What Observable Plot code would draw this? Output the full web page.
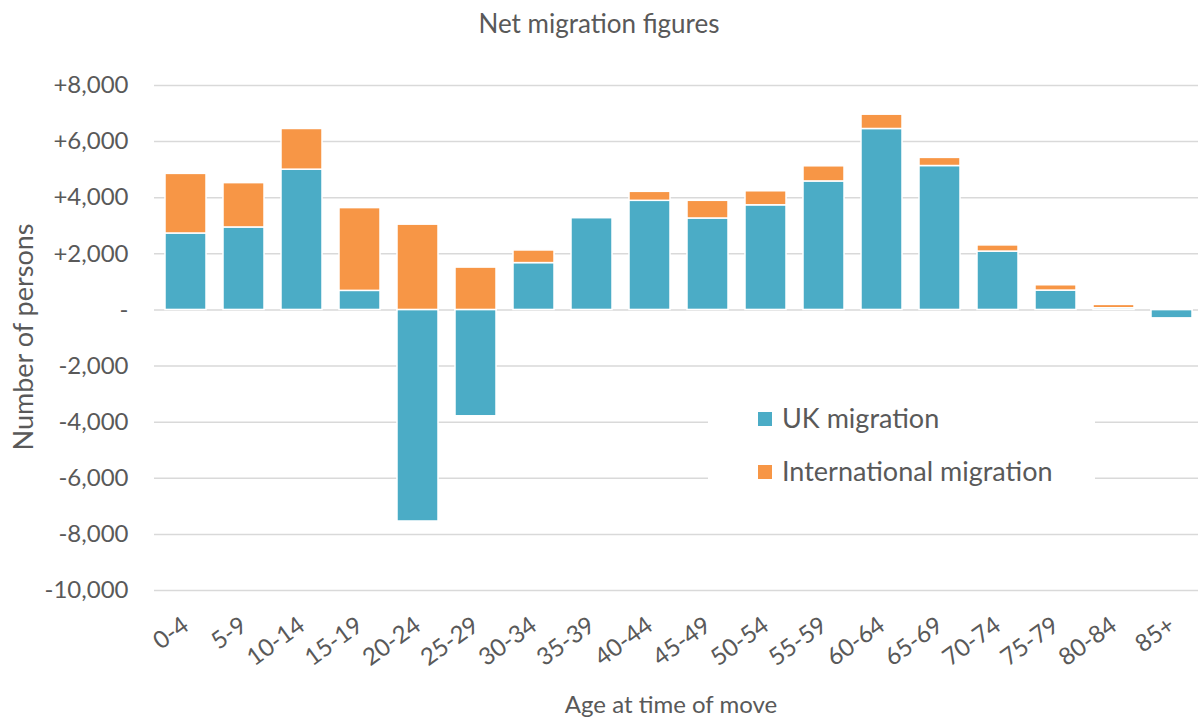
<!DOCTYPE html>
<html>
<head>
<meta charset="utf-8">
<script src="https://cdn.jsdelivr.net/npm/d3@7"></script>
<script src="https://cdn.jsdelivr.net/npm/@observablehq/plot@0.6"></script>
<style>
  html, body { margin: 0; padding: 0; background: #fff; overflow: hidden; }
  #wrap { position: relative; width: 1198px; height: 720px; overflow: hidden; font-family: Lato, "Open Sans", sans-serif; color: #595959; }
  #title { position: absolute; left: 0; top: 10px; width: 1198px; text-align: center; font-size: 26px; line-height: 1; }
  #chart { position: absolute; left: 0; top: 50px; }
  #chart svg { overflow: visible; }
  #xlabel { position: absolute; left: 0; width: 1342px; text-align: center; top: 692px; font-size: 24px; line-height: 1; }
  #ylabel { position: absolute; left: 22px; top: 337px; font-size: 27px; line-height: 1; white-space: nowrap; transform: translate(-50%, -50%) rotate(-90deg); }
  #legend { position: absolute; left: 708px; top: 390px; width: 387px; height: 100px; background: #fff; }
  .item { position: absolute; left: 50px; font-size: 27px; line-height: 1; white-space: nowrap; }
  .sw { position: absolute; left: 0; width: 14px; height: 14px; }
  .lbl { position: absolute; left: 24px; top: -8px; }
</style>
</head>
<body>
<div id="wrap">
  <div id="title">Net migration figures</div>
  <div id="chart"></div>
  <div id="ylabel">Number of persons</div>
  <div id="xlabel">Age at time of move</div>
  <div id="legend"></div>
</div>
<script>
const ages = ["0-4","5-9","10-14","15-19","20-24","25-29","30-34","35-39","40-44","45-49","50-54","55-59","60-64","65-69","70-74","75-79","80-84","85+"];
const ukMigration = [2725, 2940, 5000, 680, -7540, -3790, 1670, 3270, 3890, 3260, 3730, 4580, 6450, 5130, 2080, 690, 60, -300];
const internationalMigration = [2125, 1580, 1450, 2950, 3040, 1510, 450, 0, 320, 630, 500, 540, 510, 290, 220, 190, 120, 40];
const seriesNames = ["UK migration", "International migration"];
const seriesColors = ["#4BACC6", "#F79646"];
const yTicks = [-10000, -8000, -6000, -4000, -2000, 0, 2000, 4000, 6000, 8000];

const rows = [];
ages.forEach((a, i) => {
  rows.push({age: a, series: seriesNames[0], value: ukMigration[i]});
  rows.push({age: a, series: seriesNames[1], value: internationalMigration[i]});
});

const fmt = d3.format(",");
const tickFormat = d => d === 0 ? "-" : (d > 0 ? "+" : "-") + fmt(Math.abs(d));

const chart = Plot.plot({
  width: 1198,
  height: 670,
  marginTop: 35,
  marginBottom: 130,
  marginLeft: 154,
  marginRight: -5,
  x: {domain: ages, paddingInner: 0.3, paddingOuter: 0.15, label: null},
  y: {domain: [-10000, 8000], label: null},
  color: {domain: seriesNames, range: seriesColors},
  style: {fontFamily: "Lato, 'Open Sans', sans-serif", fontSize: "24px", color: "#595959", background: "transparent", overflow: "visible"},
  marks: [
    Plot.ruleY(yTicks, {stroke: "#d9d9d9", strokeWidth: 1.5}),
    Plot.barY(rows, {x: "age", y: "value", fill: "series", stroke: "white", strokeWidth: 1.5}),
    Plot.axisY({ticks: yTicks, tickSize: 0, tickPadding: 26, tickFormat, label: null, fontSize: 24}),
    Plot.axisX({tickSize: 0, tickRotate: -36, tickPadding: 32, label: null, fontSize: 24})
  ]
});
document.getElementById("chart").appendChild(chart);

const legend = document.getElementById("legend");
seriesNames.forEach((name, i) => {
  const item = document.createElement("div");
  item.className = "item";
  item.style.top = (22 + i * 53) + "px";
  item.innerHTML = `<div class="sw" style="background:${seriesColors[i]}"></div><div class="lbl">${name}</div>`;
  legend.appendChild(item);
});
</script>
</body>
</html>
